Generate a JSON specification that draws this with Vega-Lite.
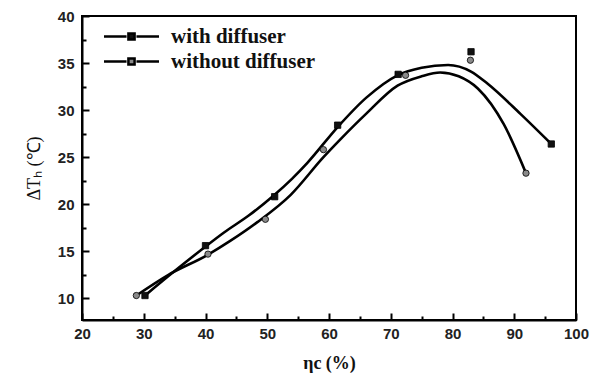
{
  "$schema": "https://vega.github.io/schema/vega-lite/v6.json",
  "width": 494,
  "height": 304,
  "autosize": {"type": "none"},
  "padding": {"left": 82, "top": 16, "right": 21, "bottom": 58},
  "background": "white",
  "config": {
    "view": {"stroke": "black", "strokeWidth": 2},
    "axis": {
      "domainColor": "black",
      "domainWidth": 2,
      "tickColor": "black",
      "tickWidth": 2,
      "grid": false,
      "labelFont": "Liberation Sans",
      "labelFontWeight": "bold",
      "labelFontSize": 15,
      "labelColor": "#222",
      "titleColor": "#111"
    }
  },
  "datasets": {
    "points": [
      {"series": "with diffuser", "eta": 30.2, "dT": 10.3},
      {"series": "with diffuser", "eta": 40.0, "dT": 15.6},
      {"series": "with diffuser", "eta": 51.2, "dT": 20.8},
      {"series": "with diffuser", "eta": 61.4, "dT": 28.4},
      {"series": "with diffuser", "eta": 71.2, "dT": 33.8},
      {"series": "with diffuser", "eta": 83.0, "dT": 36.2},
      {"series": "with diffuser", "eta": 96.0, "dT": 26.4},
      {"series": "without diffuser", "eta": 28.8, "dT": 10.3},
      {"series": "without diffuser", "eta": 40.4, "dT": 14.7},
      {"series": "without diffuser", "eta": 49.7, "dT": 18.4},
      {"series": "without diffuser", "eta": 59.1, "dT": 25.8},
      {"series": "without diffuser", "eta": 72.4, "dT": 33.7},
      {"series": "without diffuser", "eta": 82.9, "dT": 35.3},
      {"series": "without diffuser", "eta": 91.9, "dT": 23.3}
    ],
    "curves": [
      {"series": "with diffuser", "eta": 30.2, "dT": 10.3},
      {"series": "with diffuser", "eta": 35.0, "dT": 12.9},
      {"series": "with diffuser", "eta": 39.6, "dT": 15.3},
      {"series": "with diffuser", "eta": 43.0, "dT": 17.0},
      {"series": "with diffuser", "eta": 47.0, "dT": 18.8},
      {"series": "with diffuser", "eta": 51.0, "dT": 20.9},
      {"series": "with diffuser", "eta": 54.0, "dT": 22.7},
      {"series": "with diffuser", "eta": 56.5, "dT": 24.4},
      {"series": "with diffuser", "eta": 61.4, "dT": 28.2},
      {"series": "with diffuser", "eta": 66.0, "dT": 31.3},
      {"series": "with diffuser", "eta": 71.1, "dT": 33.7},
      {"series": "with diffuser", "eta": 75.0, "dT": 34.5},
      {"series": "with diffuser", "eta": 79.3, "dT": 34.8},
      {"series": "with diffuser", "eta": 83.0, "dT": 34.1},
      {"series": "with diffuser", "eta": 85.7, "dT": 32.8},
      {"series": "with diffuser", "eta": 91.0, "dT": 29.6},
      {"series": "with diffuser", "eta": 96.0, "dT": 26.4},
      {"series": "without diffuser", "eta": 28.8, "dT": 10.3},
      {"series": "without diffuser", "eta": 34.0, "dT": 12.5},
      {"series": "without diffuser", "eta": 40.3, "dT": 14.6},
      {"series": "without diffuser", "eta": 44.0, "dT": 16.1},
      {"series": "without diffuser", "eta": 48.4, "dT": 18.1},
      {"series": "without diffuser", "eta": 53.8, "dT": 21.0},
      {"series": "without diffuser", "eta": 59.1, "dT": 25.0},
      {"series": "without diffuser", "eta": 62.0, "dT": 27.0},
      {"series": "without diffuser", "eta": 66.0, "dT": 29.6},
      {"series": "without diffuser", "eta": 71.1, "dT": 32.6},
      {"series": "without diffuser", "eta": 75.0, "dT": 33.6},
      {"series": "without diffuser", "eta": 78.0, "dT": 34.0},
      {"series": "without diffuser", "eta": 81.0, "dT": 33.6},
      {"series": "without diffuser", "eta": 84.1, "dT": 32.3},
      {"series": "without diffuser", "eta": 88.3, "dT": 28.5},
      {"series": "without diffuser", "eta": 91.9, "dT": 23.3}
    ]
  },
  "encoding": {
    "x": {
      "field": "eta",
      "type": "quantitative",
      "scale": {"domain": [20, 100], "nice": false, "zero": false},
      "axis": {
        "title": "ηc (%)",
        "titleFont": "Liberation Serif",
        "titleFontSize": 18,
        "titleFontWeight": "bold",
        "titlePadding": 10,
        "values": [20, 25, 30, 35, 40, 45, 50, 55, 60, 65, 70, 75, 80, 85, 90, 95, 100],
        "labelExpr": "datum.value % 10 === 0 ? datum.label : ''",
        "tickSize": {"condition": {"test": "datum.value % 10 === 0", "value": -7}, "value": -4},
        "labelPadding": 13,
        "labelFlush": false,
        "labelOverlap": false
      }
    },
    "y": {
      "field": "dT",
      "type": "quantitative",
      "scale": {"domain": [7.7, 40], "nice": false, "zero": false},
      "axis": {
        "title": "ΔTₕ (℃)",
        "titleFont": "Liberation Serif",
        "titleFontSize": 18,
        "titleFontWeight": "normal",
        "titlePadding": 14,
        "values": [10, 12.5, 15, 17.5, 20, 22.5, 25, 27.5, 30, 32.5, 35, 37.5, 40],
        "labelExpr": "datum.value % 5 === 0 ? datum.label : ''",
        "tickSize": {"condition": {"test": "datum.value % 5 === 0", "value": -7}, "value": -4},
        "labelPadding": 15,
        "labelFlush": false,
        "labelOverlap": false
      }
    }
  },
  "layer": [
    {
      "data": {"name": "curves"},
      "mark": {"type": "line", "interpolate": "monotone", "color": "black", "strokeWidth": 2.6},
      "encoding": {"detail": {"field": "series"}}
    },
    {
      "data": {"name": "points"},
      "transform": [{"filter": "datum.series === 'with diffuser'"}],
      "mark": {"type": "square", "filled": true, "size": 40, "stroke": "black", "strokeWidth": 0.8, "opacity": 1},
      "encoding": {
        "color": {
          "field": "series",
          "type": "nominal",
          "scale": {"domain": ["with diffuser", "without diffuser"], "range": ["#111111", "#8a8a8a"]},
          "legend": {
            "title": null,
            "orient": "none",
            "legendX": 37,
            "legendY": 8,
            "symbolSize": 484,
            "symbolType": "M-2.5,0H-0.45M0.45,0H2.5M-0.28,-0.28H0.28V0.28H-0.28Z",
            "symbolStrokeColor": "black",
            "symbolStrokeWidth": 2.5,
            "labelFont": "Liberation Serif",
            "labelFontSize": 21,
            "labelFontWeight": "bold",
            "labelColor": "#111",
            "labelOffset": 27,
            "rowPadding": 2,
            "encode": {
              "symbols": {
                "enter": {
                  "shape": {"signal": "datum.value === 'with diffuser' ? 'M-2.5,0H-0.45M0.45,0H2.5M-0.28,-0.28H0.28V0.28H-0.28Z' : 'M-2.5,0H-0.45M0.45,0H2.5M-0.24,0A0.24,0.24 0 1,0 0.24,0A0.24,0.24 0 1,0 -0.24,0Z'"}
                },
                "update": {
                  "shape": {"signal": "datum.value === 'with diffuser' ? 'M-2.5,0H-0.45M0.45,0H2.5M-0.28,-0.28H0.28V0.28H-0.28Z' : 'M-2.5,0H-0.45M0.45,0H2.5M-0.24,0A0.24,0.24 0 1,0 0.24,0A0.24,0.24 0 1,0 -0.24,0Z'"},
                  "strokeDash": {"signal": "datum.value === 'with diffuser' ? [1,0] : [3,1.5]"}
                }
              }
            }
          }
        }
      }
    },
    {
      "data": {"name": "points"},
      "transform": [{"filter": "datum.series === 'without diffuser'"}],
      "mark": {"type": "circle", "size": 40, "stroke": "black", "strokeWidth": 0.8, "opacity": 1},
      "encoding": {
        "color": {"field": "series", "type": "nominal"}
      }
    }
  ]
}
